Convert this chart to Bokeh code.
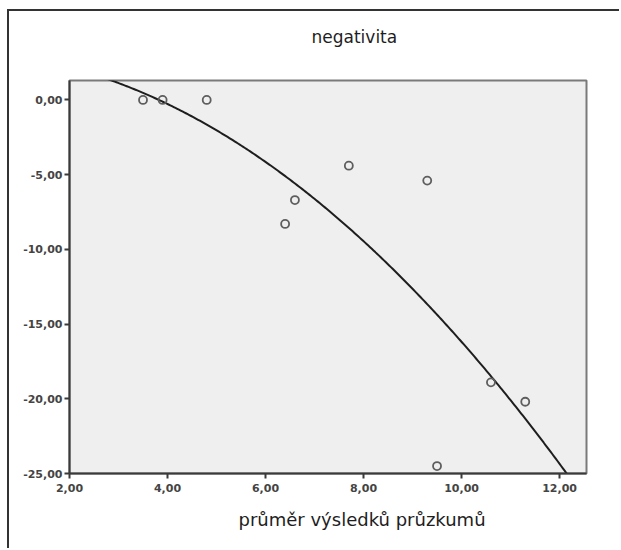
import numpy as np
from bokeh.plotting import figure
from bokeh.models import FixedTicker, Range1d, Title
from bokeh.embed import file_html
from bokeh.resources import INLINE

# ---- data ----
x_vals = [3.5, 3.9, 4.8, 6.4, 6.6, 7.7, 9.3, 9.5, 10.6, 11.3]
y_vals = [0.0, 0.0, 0.0, -8.3, -6.7, -4.4, -5.4, -24.5, -18.9, -20.2]

x_ticks = [2, 4, 6, 8, 10, 12]
x_tick_labels = ["2,00", "4,00", "6,00", "8,00", "10,00", "12,00"]
y_ticks = [0, -5, -10, -15, -20, -25]
y_tick_labels = ["0,00", "-5,00", "-10,00", "-15,00", "-20,00", "-25,00"]

title_text = "negativita"
x_label_text = "průměr výsledků průzkumů"

# quadratic fit (curve estimation) computed from the points
coef = np.polyfit(x_vals, y_vals, 2)
fit_x = np.linspace(2.0, 12.6, 300)
fit_y = np.polyval(coef, fit_x)

FONT = "DejaVu Sans"

p = figure(width=612, height=539, output_backend="svg", toolbar_location=None,
           x_range=Range1d(2.0, 12.55), y_range=Range1d(-25.0, 1.3),
           min_border_left=60, min_border_top=69, min_border_right=35,
           min_border_bottom=77,
           background_fill_color="#efefef", border_fill_color="white",
           outline_line_color="#7a7a7a", outline_line_width=2,
           styles={"margin-left": "7px", "margin-top": "9px",
                   "border-top": "2px solid #333",
                   "border-left": "2px solid #333"})

p.xgrid.visible = False
p.ygrid.visible = False

for ax in (p.xaxis[0], p.yaxis[0]):
    ax.axis_line_color = "#3a3a3a"
    ax.axis_line_width = 2
    ax.major_tick_line_color = "#3a3a3a"
    ax.major_tick_line_width = 2
    ax.major_tick_out = 5
    ax.major_tick_in = 0
    ax.minor_tick_line_color = None
    ax.major_label_text_font = FONT
    ax.major_label_text_font_size = "11px"
    ax.major_label_text_font_style = "bold"
    ax.major_label_text_color = "#444444"

p.xaxis[0].ticker = FixedTicker(ticks=x_ticks)
p.xaxis[0].major_label_overrides = dict(zip(x_ticks, x_tick_labels))
p.xaxis[0].major_label_standoff = 5
p.yaxis[0].ticker = FixedTicker(ticks=y_ticks)
p.yaxis[0].major_label_overrides = dict(zip(y_ticks, y_tick_labels))
p.yaxis[0].major_label_standoff = 2

p.line(fit_x, fit_y, line_color="#1e1e1e", line_width=2)
p.scatter(x_vals, y_vals, marker="circle", size=8, fill_alpha=0,
          line_color="#5e5e5e", line_width=1.8)

# top: spacer next to frame, then the chart title
p.add_layout(Title(text=" ", text_font_size="10px", standoff=21), "above")
p.add_layout(Title(text=title_text, text_font=FONT, text_font_size="17px",
                   text_font_style="normal", text_color="#1e1e1e",
                   align="left", offset=242, standoff=0,
                   vertical_align="bottom"), "above")

# bottom: spacer below axis, then the x-axis caption
p.add_layout(Title(text=" ", text_font_size="8px", standoff=3), "below")
p.add_layout(Title(text=x_label_text, text_font=FONT, text_font_size="18px",
                   text_font_style="normal", text_color="#1e1e1e",
                   align="left", offset=169, standoff=0,
                   vertical_align="top"), "below")

open("out.html", "w").write(file_html(p, INLINE))
